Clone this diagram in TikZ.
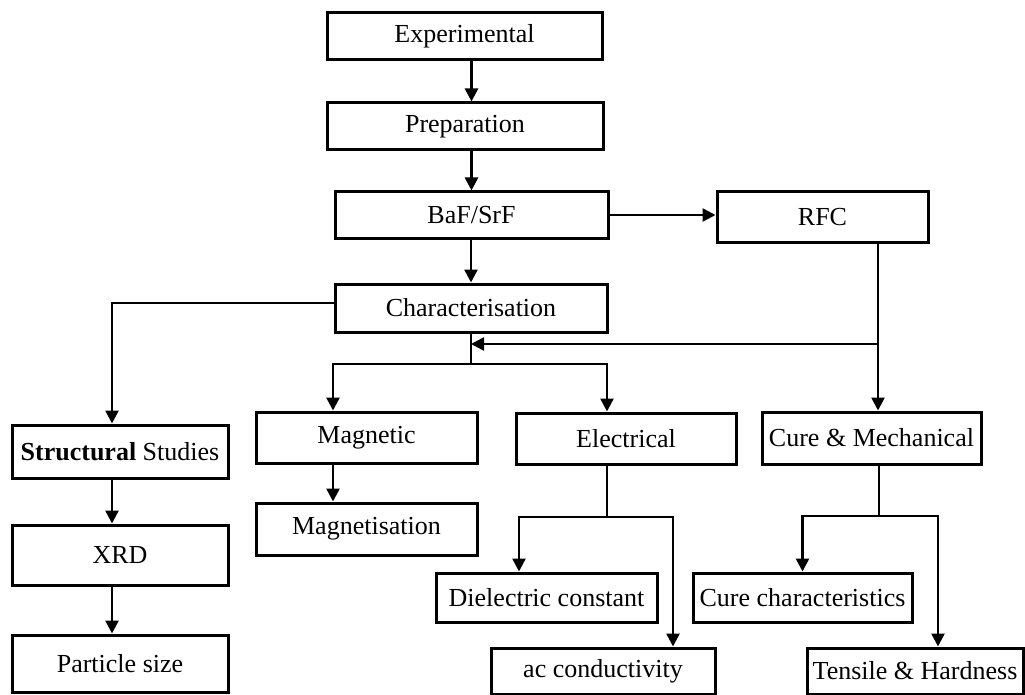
\documentclass[tikz,border=0pt]{standalone}
\usepackage{fontspec}
\setmainfont{Liberation Serif}
\usetikzlibrary{arrows.meta}
\begin{document}
\begin{tikzpicture}[x=1pt,y=-1pt,
  box/.style={draw, line width=3pt, inner sep=0pt, align=center,
    font=\fontsize{26}{30}\selectfont},
  conn/.style={line width=2.6pt},
  arr/.style={conn, -{Triangle[length=13pt,width=13pt]}}]
\useasboundingbox (0,0) rectangle (1025,695);
% nodes
\node[box, minimum width=275pt, minimum height=47pt] (exp) at (464.5,36.5) {Experimental};
\node[box, minimum width=276pt, minimum height=47pt] (prep) at (465,126.5) {Preparation};
\node[box, minimum width=273pt, minimum height=46pt] (baf) at (471.5,215) {BaF/SrF};
\node[box, minimum width=211pt, minimum height=50pt] (rfc) at (822.5,217) {RFC};
\node[box, minimum width=272pt, minimum height=48pt] (char) at (471,308) {Characterisation};
\node[box, minimum width=216pt, minimum height=53pt] (struct) at (120,451.5) {\textbf{Structural} Studies};
\node[box, minimum width=221pt, minimum height=51pt] (mag) at (366.5,437.5) {Magnetic};
\node[box, minimum width=220pt, minimum height=51pt] (elec) at (626,438.5) {Electrical};
\node[box, minimum width=219pt, minimum height=52pt] (cure) at (871.5,438) {Cure \& Mechanical};
\node[box, minimum width=221pt, minimum height=52pt] (magn) at (366.5,529) {Magnetisation};
\node[box, minimum width=216pt, minimum height=60pt] (xrd) at (120,555) {XRD};
\node[box, minimum width=216pt, minimum height=57pt] (part) at (120,663.5) {Particle size};
\node[box, minimum width=221pt, minimum height=49pt] (diel) at (546.5,597.5) {Dielectric constant};
\node[box, minimum width=224pt, minimum height=46pt] (ac) at (603,671) {ac conductivity};
\node[box, minimum width=219pt, minimum height=49pt] (curec) at (802.5,597.5) {Cure characteristics};
\node[box, minimum width=216pt, minimum height=46pt] (tens) at (915,671) {Tensile \& Hardness};
% junction coordinates
\coordinate (j1) at (471,364);
\coordinate (j2) at (878,344);
\coordinate (j3) at (471,344);
\coordinate (e1) at (607,517);
\coordinate (c1) at (879,516);
% connectors
\draw[arr] (exp.south -| baf) -- (prep.north -| baf);
\draw[arr] (prep.south -| baf) -- (baf.north);
\draw[arr] (baf.east) -- (baf.east -| rfc.west);
\draw[arr] (baf.south -| char) -- (char.north);
\draw[arr] ([yshift=5pt]char.west) -| ([xshift=-8pt]struct.north);
\draw[conn] (char.south) -- (j1);
\draw[arr] (j1) -| ([xshift=-33.5pt]mag.north);
\draw[arr] (j1) -| ([xshift=-19pt]elec.north);
\draw[conn] (rfc.south -| j2) -- (j2);
\draw[arr] (j2) -- (cure.north -| j2);
\draw[arr] (j2) -- (j3);
\draw[arr] ([xshift=-33.5pt]mag.south) -- ([xshift=-33.5pt]magn.north);
\draw[arr] ([xshift=-8pt]struct.south) -- ([xshift=-8pt]xrd.north);
\draw[arr] ([xshift=-8pt]xrd.south) -- ([xshift=-8pt]part.north);
\draw[conn] (elec.south -| e1) -- (e1);
\draw[arr] (e1) -| ([xshift=-27.5pt]diel.north);
\draw[arr] (e1) -| ([xshift=70pt]ac.north);
\draw[conn] (cure.south -| c1) -- (c1);
\draw[arr] (c1) -| (curec.north);
\draw[arr] (c1) -| ([xshift=23pt]tens.north);
\end{tikzpicture}
\end{document}
